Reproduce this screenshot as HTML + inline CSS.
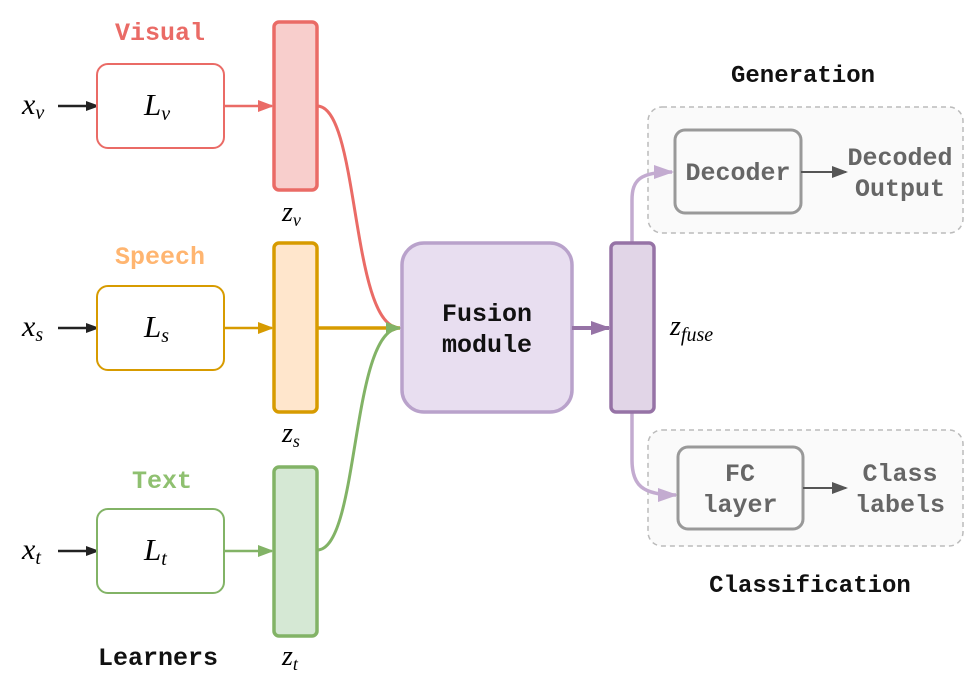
<!DOCTYPE html>
<html><head><meta charset="utf-8"><style>
html,body{margin:0;padding:0;background:#fff;width:980px;height:681px;overflow:hidden}
.m{font-family:"Liberation Mono",monospace;font-weight:bold}
.s{font-family:"Liberation Serif",serif;font-style:italic}
</style></head><body>
<svg width="980" height="681" viewBox="0 0 980 681" xmlns="http://www.w3.org/2000/svg">
<defs>
<marker id="ab" markerWidth="10" markerHeight="10" refX="9" refY="5" orient="auto" markerUnits="userSpaceOnUse"><path d="M0,0 L14,5 L0,10 Z" fill="#222"/></marker>
<marker id="ar" markerWidth="16" markerHeight="12" refX="14" refY="6" orient="auto" markerUnits="userSpaceOnUse"><path d="M0,0 L16,6 L0,12 Z" fill="#EA6B66"/></marker>
<marker id="ao" markerWidth="16" markerHeight="12" refX="14" refY="6" orient="auto" markerUnits="userSpaceOnUse"><path d="M0,0 L16,6 L0,12 Z" fill="#D79B00"/></marker>
<marker id="ag" markerWidth="16" markerHeight="12" refX="14" refY="6" orient="auto" markerUnits="userSpaceOnUse"><path d="M0,0 L16,6 L0,12 Z" fill="#82B366"/></marker>
<marker id="ap" markerWidth="20" markerHeight="14" refX="18" refY="7" orient="auto" markerUnits="userSpaceOnUse"><path d="M0,0 L20,7 L0,14 Z" fill="#9673A6"/></marker>
<marker id="al" markerWidth="20" markerHeight="14" refX="18" refY="7" orient="auto" markerUnits="userSpaceOnUse"><path d="M0,0 L20,7 L0,14 Z" fill="#C3ABD0"/></marker>
<marker id="ay" markerWidth="16" markerHeight="12" refX="14" refY="6" orient="auto" markerUnits="userSpaceOnUse"><path d="M0,0 L16,6 L0,12 Z" fill="#555"/></marker>
</defs>

<text class="m" x="160" y="40" font-size="25" fill="#EA6B66" text-anchor="middle">Visual</text>
<text class="s" x="22" y="114" font-size="30">x<tspan font-size="20" dy="5">v</tspan></text>
<line x1="58" y1="106" x2="95" y2="106" stroke="#222" stroke-width="2.5" marker-end="url(#ab)"/>
<rect x="97" y="64" width="127" height="84" rx="11" fill="#fff" stroke="#EA6B66" stroke-width="2"/>
<text class="s" x="144" y="115" font-size="31">L<tspan font-size="20" dy="5">v</tspan></text>
<line x1="224" y1="106" x2="272" y2="106" stroke="#EA6B66" stroke-width="2.5" marker-end="url(#ar)"/>
<rect x="274" y="22" width="43" height="168" rx="5" fill="#F8CECC" stroke="#EA6B66" stroke-width="3.5"/>
<text class="s" x="282" y="221" font-size="28">z<tspan font-size="18" dy="5">v</tspan></text>

<text class="m" x="160" y="264" font-size="25" fill="#FFB570" text-anchor="middle">Speech</text>
<text class="s" x="22" y="336" font-size="30">x<tspan font-size="20" dy="5">s</tspan></text>
<line x1="58" y1="328" x2="95" y2="328" stroke="#222" stroke-width="2.5" marker-end="url(#ab)"/>
<rect x="97" y="286" width="127" height="84" rx="11" fill="#fff" stroke="#D79B00" stroke-width="2"/>
<text class="s" x="144" y="337" font-size="31">L<tspan font-size="20" dy="5">s</tspan></text>
<line x1="224" y1="328" x2="272" y2="328" stroke="#D79B00" stroke-width="2.5" marker-end="url(#ao)"/>
<rect x="274" y="243" width="43" height="169" rx="5" fill="#FFE6CC" stroke="#D79B00" stroke-width="3.5"/>
<text class="s" x="282" y="442" font-size="28">z<tspan font-size="18" dy="5">s</tspan></text>

<text class="m" x="162" y="488" font-size="25" fill="#8FC070" text-anchor="middle">Text</text>
<text class="s" x="22" y="559" font-size="30">x<tspan font-size="20" dy="5">t</tspan></text>
<line x1="58" y1="551" x2="95" y2="551" stroke="#222" stroke-width="2.5" marker-end="url(#ab)"/>
<rect x="97" y="509" width="127" height="84" rx="11" fill="#fff" stroke="#82B366" stroke-width="2"/>
<text class="s" x="144" y="560" font-size="31">L<tspan font-size="20" dy="5">t</tspan></text>
<line x1="224" y1="551" x2="272" y2="551" stroke="#82B366" stroke-width="2.5" marker-end="url(#ag)"/>
<rect x="274" y="467" width="43" height="169" rx="5" fill="#D5E8D4" stroke="#82B366" stroke-width="3.5"/>
<text class="s" x="282" y="665" font-size="28">z<tspan font-size="18" dy="5">t</tspan></text>

<text class="m" x="158" y="665" font-size="25" fill="#111" text-anchor="middle">Learners</text>

<path d="M317,106 C360,106 350,328 400,328" fill="none" stroke="#EA6B66" stroke-width="3" marker-end="url(#ar)"/>
<path d="M317,328 L400,328" fill="none" stroke="#D79B00" stroke-width="3.5" marker-end="url(#ao)"/>
<path d="M317,550 C360,550 350,328 400,328" fill="none" stroke="#82B366" stroke-width="3" marker-end="url(#ag)"/>

<rect x="402" y="243" width="170" height="169" rx="22" fill="#E8DEF0" stroke="#B9A2CB" stroke-width="3.5"/>
<text class="m" x="487" y="321" font-size="25" fill="#111" text-anchor="middle">Fusion<tspan x="487" dy="31">module</tspan></text>
<line x1="572" y1="328" x2="609" y2="328" stroke="#9673A6" stroke-width="4" marker-end="url(#ap)"/>

<rect x="648" y="107" width="315" height="126" rx="14" fill="#FAFAFA" stroke="#BBBBBB" stroke-width="1.5" stroke-dasharray="5,4"/>
<rect x="648" y="430" width="315" height="116" rx="14" fill="#FAFAFA" stroke="#BBBBBB" stroke-width="1.5" stroke-dasharray="5,4"/>
<text class="m" x="803" y="82" font-size="24" fill="#111" text-anchor="middle">Generation</text>
<text class="m" x="810" y="592" font-size="24" fill="#111" text-anchor="middle">Classification</text>

<path d="M632,243 L632,200 C632,180 640,172 672,172" fill="none" stroke="#C3ABD0" stroke-width="3.5" marker-end="url(#al)"/>
<path d="M632,412 L632,460 C632,485 642,495 676,495" fill="none" stroke="#C3ABD0" stroke-width="3.5" marker-end="url(#al)"/>

<rect x="611" y="243" width="43" height="169" rx="5" fill="#E1D5E7" stroke="#9673A6" stroke-width="3.5"/>
<text class="s" x="670" y="335" font-size="28">z<tspan font-size="20" dy="6">fuse</tspan></text>

<rect x="675" y="130" width="126" height="83" rx="10" fill="#FAFAFA" stroke="#999" stroke-width="3"/>
<text class="m" x="738" y="180" font-size="25" fill="#666" text-anchor="middle">Decoder</text>
<line x1="801" y1="172" x2="846" y2="172" stroke="#555" stroke-width="2" marker-end="url(#ay)"/>
<text class="m" x="900" y="165" font-size="25" fill="#666" text-anchor="middle">Decoded<tspan x="900" dy="31">Output</tspan></text>

<rect x="678" y="447" width="125" height="82" rx="10" fill="#FAFAFA" stroke="#999" stroke-width="3"/>
<text class="m" x="740" y="481" font-size="25" fill="#666" text-anchor="middle">FC<tspan x="740" dy="31">layer</tspan></text>
<line x1="803" y1="488" x2="846" y2="488" stroke="#555" stroke-width="2" marker-end="url(#ay)"/>
<text class="m" x="900" y="481" font-size="25" fill="#666" text-anchor="middle">Class<tspan x="900" dy="31">labels</tspan></text>
</svg>
</body></html>
